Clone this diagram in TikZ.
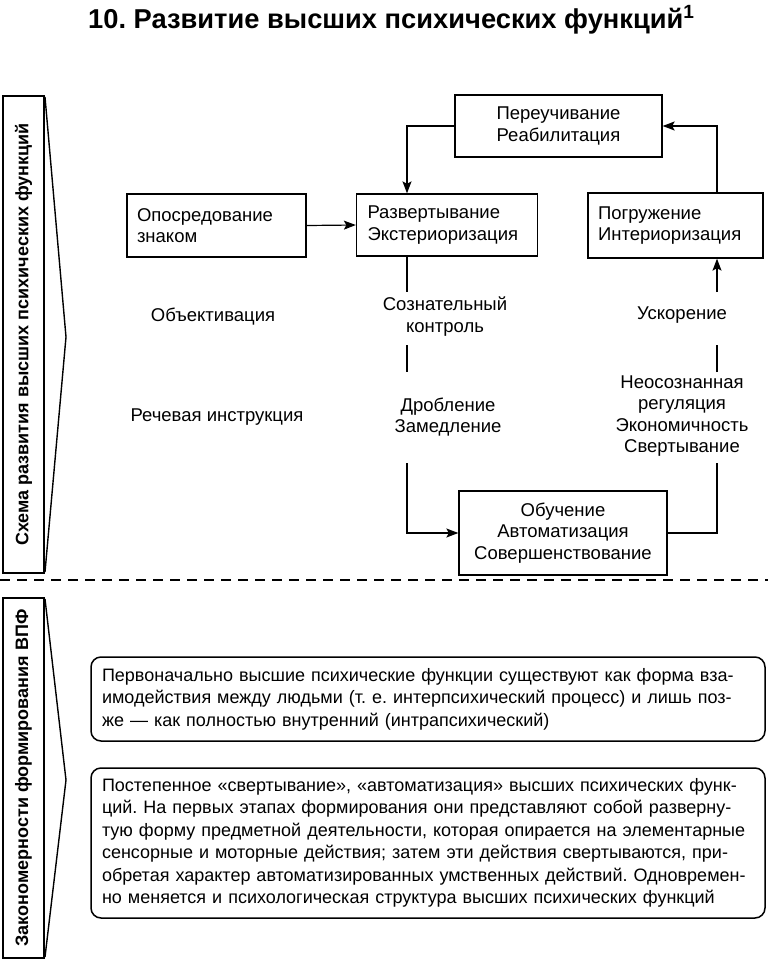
\documentclass[tikz,border=0pt]{standalone}
\usepackage{fontspec}
\setmainfont{Liberation Sans}
\usetikzlibrary{arrows.meta,calc}
\frenchspacing
\begin{document}
\frenchspacing
\begin{tikzpicture}[x=1pt,y=-1pt,
  lbl/.style={font=\fontsize{18.5}{21.5}\selectfont, inner sep=0pt, align=center},
  sbox/.style={draw, line width=1.3pt, font=\fontsize{18.5}{21.5}\selectfont, inner ysep=0pt},
  leftbox/.style={sbox, align=left, inner xsep=10pt},
  ctrbox/.style={sbox, align=center, inner xsep=0pt},
  sidebar/.style={draw, line width=2pt, rotate=90, minimum height=41pt, inner sep=0pt, font=\bfseries\fontsize{18}{20}\selectfont},
  rbox/.style={draw, line width=1.5pt, rounded corners=10pt, inner xsep=11pt, align=left, text width=652pt, font=\fontsize{18}{22.5}\selectfont},
  conn/.style={line width=1.2pt},
  arr/.style={conn, -{Stealth[length=12pt,width=9pt,inset=2.5pt]}}
]
\useasboundingbox (0,0) rectangle (768,964);

% title
\node[anchor=base west, inner sep=0pt, font=\bfseries\fontsize{27.3}{30}\selectfont] (title) at (88,28)
  {10. Развитие высших психических функций\textsuperscript{1}};

% side bars
\node[sidebar, minimum width=477pt] (bar1) at (23.5,334.5) {Схема развития высших психических функций};
\draw[line width=1.4pt, line join=miter] (45,97) -- (66,337) -- (45,572);
\node[sidebar, minimum width=360pt] (bar2) at (23.5,778) {Закономерности формирования ВПФ};
\draw[line width=1.4pt, line join=miter] (45,599) -- (66,780) -- (45,957);

% dashed separator
\draw[line width=1.2pt, dash pattern=on 10pt off 7pt] (0,580) -- (768,580);

% boxes of the scheme
\node[leftbox, text width=159pt, minimum height=63pt] (opos) at (216.5,225.5) {Опосредование\\знаком};
\node[leftbox, text width=159pt, minimum height=62pt, inner xsep=11pt] (razv) at (447,225) {Развертывание\\Экстериоризация};
\node[leftbox, text width=155pt, minimum height=65pt] (pogr) at (675.5,225.5) {Погружение\\Интериоризация};
\node[ctrbox, text width=207pt, minimum height=62pt] (pere) at (558.5,126) {Переучивание\\Реабилитация};
\node[ctrbox, text width=208pt, minimum height=84pt] (obuch) at (563,533) {Обучение\\Автоматизация\\Совершенствование};

% free labels
\node[lbl] (objekt) at (213,317) {Объективация};
\node[lbl] (rech) at (217,417) {Речевая инструкция};
\node[lbl] (soz) at (445,316.5) {Сознательный\\контроль};
\node[lbl] (drob) at (448,417) {Дробление\\Замедление};
\node[lbl] (usk) at (682,315) {Ускорение};
\node[lbl] (neos) at (682,416) {Неосознанная\\регуляция\\Экономичность\\Свертывание};

% connector way points
\coordinate (l1) at (407,292);
\coordinate (l2a) at (407,345);
\coordinate (l2b) at (407,372);
\coordinate (l3) at (407,463);
\coordinate (r1) at (717,292);
\coordinate (r2a) at (717,345);
\coordinate (r2b) at (717,372);
\coordinate (r3) at (717,463);

% connectors
\draw[arr] (opos.east) -- (razv.west);
\draw[arr] (pere.west) -| (razv.north -| l1);
\draw[arr] (pogr.north -| r1) |- (pere.east);
\draw[conn] (razv.south -| l1) -- (l1);
\draw[conn] (l2a) -- (l2b);
\draw[arr] (l3) |- (obuch.west);
\draw[conn] (obuch.east) -| (r3);
\draw[conn] (r2b) -- (r2a);
\draw[arr] (r1) -- (pogr.south -| r1);

% regularities
\node[rbox, minimum height=84pt] (reg1) at (428,699) {%
\makebox[652pt][s]{Первоначально высшие психические функции существуют как форма вза-}\\
\makebox[652pt][s]{имодействия между людьми (т. е. интерпсихический процесс) и лишь поз-}\\
же — как полностью внутренний (интрапсихический)};
\node[rbox, minimum height=150pt] (reg2) at (428,843) {%
\makebox[652pt][s]{Постепенное «свертывание», «автоматизация» высших психических функ-}\\
\makebox[652pt][s]{ций. На первых этапах формирования они представляют собой разверну-}\\
\makebox[652pt][s]{тую форму предметной деятельности, которая опирается на элементарные}\\
\makebox[652pt][s]{сенсорные и моторные действия; затем эти действия свертываются, при-}\\
\makebox[652pt][s]{обретая характер автоматизированных умственных действий. Одновремен-}\\
но меняется и психологическая структура высших психических функций};
\end{tikzpicture}
\end{document}
